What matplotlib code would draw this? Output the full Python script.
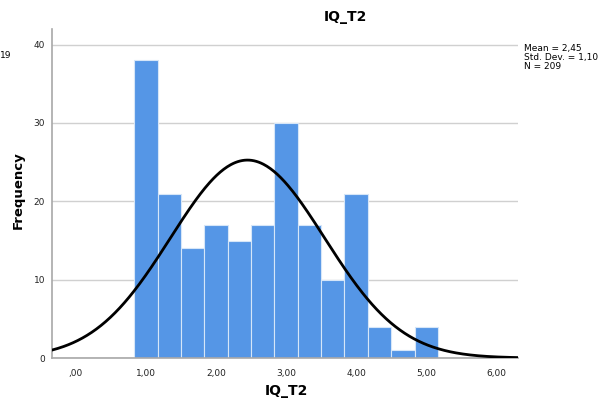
import numpy as np
import matplotlib
matplotlib.use('Agg')
import matplotlib.pyplot as plt

# histogram data (bin left edges, bin width 1/3)
bin_width = 1 / 3
bin_starts = [0.8333 + i * bin_width for i in range(13)]
counts = [38, 21, 14, 17, 15, 17, 30, 17, 10, 21, 4, 1, 4]

mean_val = 2.45
std_val = 1.10
n_val = 209

x_ticks = [0, 1, 2, 3, 4, 5, 6]
x_tick_labels = [',00', '1,00', '2,00', '3,00', '4,00', '5,00', '6,00']
y_ticks = [0, 10, 20, 30, 40]

plt.rcParams['font.family'] = ['DejaVu Sans']

fig = plt.figure(figsize=(6.03, 4.05), dpi=100)
ax = fig.add_axes([52 / 603, 1 - 358 / 405, (518 - 52) / 603, (358 - 29) / 405])

ax.bar(bin_starts, counts, width=bin_width, align='edge',
       color='#5596E6', edgecolor='#d6e6f8', linewidth=0.8, zorder=2)

# normal curve from the displayed statistics
xs = np.linspace(-0.34, 6.31, 400)
ys = n_val * bin_width * np.exp(-0.5 * ((xs - mean_val) / std_val) ** 2) / (std_val * np.sqrt(2 * np.pi))
ax.plot(xs, ys, color='black', linewidth=2.0, zorder=3)

ax.set_xlim(-0.34, 6.31)
ax.set_ylim(0, 42)
ax.set_xticks(x_ticks)
ax.set_xticklabels(x_tick_labels)
ax.set_yticks(y_ticks)
ax.tick_params(axis='both', length=0, labelsize=6.5, colors='#222222', pad=8)
ax.tick_params(axis='y', pad=5)
ax.yaxis.grid(True, color='#d0d0d0', linewidth=1.0, zorder=0)
ax.set_axisbelow(True)

for side in ['top', 'right']:
    ax.spines[side].set_visible(False)
for side in ['left', 'bottom']:
    ax.spines[side].set_color('#a8a8a8')
    ax.spines[side].set_linewidth(1.2)

fig.text(345 / 603, 1 - 17 / 405, 'IQ_T2', ha='center', va='center', fontsize=10, fontweight='bold')
fig.text(286 / 603, 1 - 391 / 405, 'IQ_T2', ha='center', va='center', fontsize=10, fontweight='bold')
fig.text(18 / 603, 1 - 190 / 405, 'Frequency', ha='center', va='center', rotation=90,
         fontsize=9.5, fontweight='bold')
fig.text(0 / 603, 1 - 56 / 405, '19', ha='left', va='center', fontsize=6.5)

fig.text(524 / 603, 1 - 44 / 405, 'Mean = 2,45\nStd. Dev. = 1,10\nN = 209',
         ha='left', va='top', fontsize=6.5, linespacing=1.0)

fig.savefig('out.png', dpi=100)
